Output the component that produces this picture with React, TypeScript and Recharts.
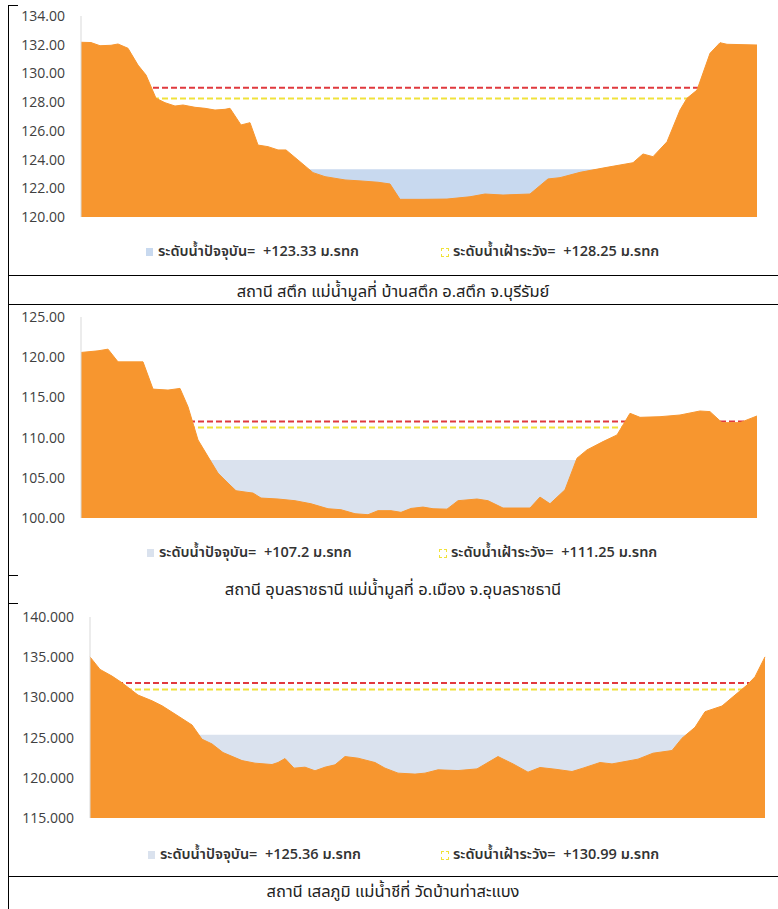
import { AreaChart, Area, XAxis, YAxis } from 'recharts';

// chainage along the cross-section (m) and bed elevation (m.MSL) for each station
const stukDist = [0, 10, 19, 30, 37, 47, 57, 65, 75, 84, 94, 102, 114, 124, 134, 144, 149, 160, 169, 177, 187, 197, 205, 217, 232, 244, 264, 280, 297, 309, 319, 342, 366, 389, 404, 422, 449, 467, 479, 499, 526, 552, 562, 572, 586, 599, 606, 616, 629, 639, 646, 676];
const stukBed = [132.17, 132.15, 131.93, 131.96, 132.05, 131.75, 130.58, 129.89, 128.27, 127.96, 127.73, 127.8, 127.64, 127.57, 127.45, 127.5, 127.57, 126.41, 126.57, 125.01, 124.9, 124.67, 124.67, 123.97, 123.09, 122.81, 122.58, 122.51, 122.42, 122.3, 121.23, 121.23, 121.25, 121.41, 121.6, 121.53, 121.6, 122.65, 122.74, 123.11, 123.46, 123.78, 124.39, 124.2, 125.24, 127.45, 128.27, 128.84, 131.4, 132.14, 132.03, 131.98];
const stukTicks = [120, 122, 124, 126, 128, 130, 132, 134];
const stukWater = 123.33;
const stukBank = 129.0;
const stukWarn = 128.25;

const ubonDist = [0, 17, 27, 37, 62, 72, 87, 99, 107, 117, 127, 137, 147, 155, 167, 172, 180, 197, 214, 230, 247, 260, 274, 287, 297, 310, 320, 330, 342, 352, 366, 377, 396, 407, 422, 449, 459, 469, 484, 496, 506, 522, 536, 549, 559, 579, 599, 619, 629, 641, 659, 676];
const ubonBed = [120.59, 120.79, 121.0, 119.42, 119.42, 116.03, 115.91, 116.12, 113.84, 109.71, 107.64, 105.58, 104.34, 103.39, 103.18, 103.1, 102.48, 102.36, 102.15, 101.77, 101.15, 101.03, 100.53, 100.41, 100.91, 100.91, 100.7, 101.19, 101.36, 101.15, 101.1, 102.15, 102.36, 102.15, 101.24, 101.24, 102.6, 101.77, 103.51, 107.44, 108.47, 109.5, 110.33, 113.02, 112.52, 112.6, 112.81, 113.31, 113.23, 111.86, 111.86, 112.69];
const ubonTicks = [100, 105, 110, 115, 120, 125];
const ubonWater = 107.2;
const ubonBank = 112.0;
const ubonWarn = 111.25;

const selaDist = [0, 10, 22, 32, 48, 62, 72, 85, 102, 112, 122, 133, 152, 165, 182, 188, 195, 204, 215, 225, 235, 245, 255, 268, 285, 295, 308, 325, 335, 348, 368, 387, 408, 423, 438, 450, 465, 482, 493, 510, 522, 535, 548, 563, 582, 592, 605, 615, 632, 645, 657, 665, 675];
const selaBed = [135.04, 133.48, 132.65, 131.82, 130.29, 129.58, 128.96, 127.93, 126.57, 124.8, 124.21, 123.14, 122.14, 121.82, 121.65, 121.9, 122.39, 121.2, 121.32, 120.87, 121.32, 121.61, 122.64, 122.44, 121.9, 121.2, 120.58, 120.46, 120.58, 120.99, 120.9, 121.11, 122.64, 121.73, 120.7, 121.28, 121.07, 120.78, 121.2, 121.9, 121.73, 122.02, 122.32, 123.06, 123.39, 124.92, 126.28, 128.22, 128.93, 130.29, 131.53, 132.56, 135.04];
const selaTicks = [115, 120, 125, 130, 135, 140];
const selaWater = 125.36;
const selaBank = 131.8;
const selaWarn = 130.99;

const ORANGE = '#f7962f';
const RED = '#e0393e';
const YELLOW = '#f0e23a';
const TEXT = '#333333';
const THAI = "'Open Sans', 'Noto Sans Thai', 'Noto Sans', Tahoma, sans-serif";

type Props = {
  dist: number[];
  bed: number[];
  water: number;
  bank: number;
  warn: number;
  ticks: number[];
  decimals: number;
  top: number;
  height: number;
  yWidth: number;
  right: number;
  mTop: number;
  mBottom: number;
  waterColor: string;
  legendY: number;
  legendX1: number;
  legendX2: number;
};

function CrossSection(p: Props) {
  const rows = p.dist.map((d, i) => ({ d, bed: p.bed[i], water: p.water, bank: p.bank, warn: p.warn }));
  const lo = p.ticks[0];
  const hi = p.ticks[p.ticks.length - 1];
  const legendTop = p.legendY - p.top - 11;
  const legendStyle = {
    position: 'absolute' as const,
    top: legendTop,
    height: 22,
    display: 'flex',
    alignItems: 'center',
    fontFamily: THAI,
    fontSize: 14.5,
    fontWeight: 600,
    color: TEXT,
    whiteSpace: 'pre' as const,
  };
  return (
    <div style={{ position: 'absolute', left: 0, top: p.top, width: 778, height: p.height }}>
      <AreaChart width={778} height={p.height} data={rows} margin={{ top: p.mTop, right: p.right, bottom: p.mBottom, left: 0 }}>
        <XAxis type="number" dataKey="d" domain={[0, 676]} tick={false} tickLine={false} axisLine={{ stroke: '#f6e3a8' }} height={0} />
        <YAxis
          type="number"
          domain={[lo, hi]}
          ticks={p.ticks}
          width={p.yWidth}
          allowDataOverflow
          tickLine={false}
          axisLine={{ stroke: '#d9d9d9' }}
          tickMargin={10}
          tick={{ fill: '#404040', fontSize: 14, fontFamily: 'Open Sans' }}
          tickFormatter={(v: number) => v.toFixed(p.decimals)}
        />
        <Area type="linear" dataKey="water" fill={p.waterColor} fillOpacity={1} stroke="none" isAnimationActive={false} />
        <Area type="linear" dataKey="bank" fill="none" stroke={RED} strokeWidth={2} strokeDasharray="6 3" isAnimationActive={false} />
        <Area type="linear" dataKey="warn" fill="none" stroke={YELLOW} strokeWidth={2} strokeDasharray="6 3" isAnimationActive={false} />
        <Area type="linear" dataKey="bed" fill={ORANGE} fillOpacity={1} stroke={ORANGE} strokeWidth={1} isAnimationActive={false} />
      </AreaChart>
      <div style={{ ...legendStyle, left: p.legendX1 }}>
        <span style={{ width: 7, height: 8, background: p.waterColor, marginRight: 5 }} />
        {'ระดับน้ำปัจจุบัน=  +' + p.water + ' ม.รทก'}
      </div>
      <div style={{ ...legendStyle, left: p.legendX2 }}>
        <span style={{ width: 6, height: 7, border: '1px dashed ' + YELLOW, marginRight: 4 }} />
        {'ระดับน้ำเฝ้าระวัง=  +' + p.warn.toFixed(2) + ' ม.รทก'}
      </div>
    </div>
  );
}

function Caption({ y, text }: { y: number; text: string }) {
  return (
    <div style={{ position: 'absolute', left: 8, top: y - 13, width: 770, height: 26, lineHeight: '26px', textAlign: 'center', fontFamily: THAI, fontSize: 16.5, color: '#222' }}>
      {text}
    </div>
  );
}

function Rule({ x, y, w }: { x: number; y: number; w: number }) {
  return <div style={{ position: 'absolute', left: x, top: y, width: w, height: 1, background: '#000' }} />;
}

export default function App() {
  return (
    <div style={{ position: 'absolute', left: 0, top: 0, width: 778, height: 909, background: '#fff', overflow: 'hidden' }}>
      <CrossSection dist={stukDist} bed={stukBed} water={stukWater} bank={stukBank} warn={stukWarn} ticks={stukTicks} decimals={2}
        top={0} height={275} yWidth={81} right={21} mTop={16} mBottom={58} waterColor="#c8d9ef" legendY={252} legendX1={146} legendX2={441} />
      <CrossSection dist={ubonDist} bed={ubonBed} water={ubonWater} bank={ubonBank} warn={ubonWarn} ticks={ubonTicks} decimals={2}
        top={304} height={271} yWidth={81} right={21} mTop={13} mBottom={57} waterColor="#dae2ee" legendY={553} legendX1={147} legendX2={439} />
      <CrossSection dist={selaDist} bed={selaBed} water={selaWater} bank={selaBank} warn={selaWarn} ticks={selaTicks} decimals={3}
        top={604} height={272} yWidth={90} right={12} mTop={13} mBottom={58} waterColor="#dae2ee" legendY={855} legendX1={148} legendX2={441} />

      <Caption y={291} text="สถานี สตึก แม่น้ำมูลที่ บ้านสตึก อ.สตึก จ.บุรีรัมย์" />
      <Caption y={589} text="สถานี อุบลราชธานี แม่น้ำมูลที่ อ.เมือง จ.อุบลราชธานี" />
      <Caption y={891} text="สถานี เสลภูมิ แม่น้ำชีที่ วัดบ้านท่าสะแบง" />

      <div style={{ position: 'absolute', left: 8, top: 5, width: 1, height: 904, background: '#000' }} />
      <Rule x={8} y={5} w={10} />
      <Rule x={8} y={275} w={770} />
      <Rule x={8} y={304} w={770} />
      <Rule x={8} y={575} w={10} />
      <Rule x={8} y={603} w={10} />
      <Rule x={8} y={876} w={770} />
    </div>
  );
}
